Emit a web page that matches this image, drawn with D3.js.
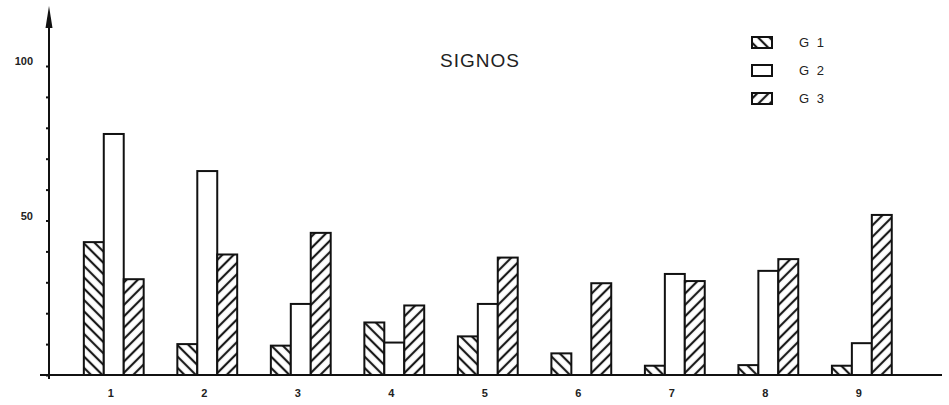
<!DOCTYPE html>
<html>
<head>
<meta charset="utf-8">
<script src="https://cdn.jsdelivr.net/npm/d3@7"></script>
<style>
  body { margin: 0; background: #fff; }
  svg { display: block; font-family: "Liberation Sans", Arial, sans-serif; }
</style>
</head>
<body>
<div class="canvas"></div>
<script>
// data
const categories = ['1', '2', '3', '4', '5', '6', '7', '8', '9'];
const groups = ['G 1', 'G 2', 'G 3'];
const g1 = [43, 10, 9.5, 17, 12.5, 7, 3, 3.2, 3];
const g2 = [78, 66, 23, 10.5, 23, 0, 32.7, 33.7, 10.3];
const g3 = [31, 39, 46, 22.5, 38, 29.7, 30.4, 37.5, 51.8];
const yTickLabels = [50, 100];

const width = 949, height = 405;
const baseY = 375, axisX = 49;

const svg = d3.select('.canvas').append('svg')
    .attr('width', width)
    .attr('height', height);

// patterns
const defs = svg.append('defs');
const hatch = (id, dir) => {
    const p = defs.append('pattern')
        .attr('id', id)
        .attr('patternUnits', 'userSpaceOnUse')
        .attr('width', 8).attr('height', 8)
        .attr('patternTransform', `rotate(${dir})`);
    p.append('rect').attr('width', 8).attr('height', 8).attr('fill', '#fff');
    p.append('line')
        .attr('x1', 4).attr('y1', 0).attr('x2', 4).attr('y2', 8)
        .attr('stroke', '#1a1a1a').attr('stroke-width', 2.2);
};
hatch('hatchBack', -45);
hatch('hatchFwd', 45);
const fills = ['url(#hatchBack)', '#fff', 'url(#hatchFwd)'];

// scales
const x = d3.scaleBand()
    .domain(categories)
    .range([67, 1 + 67 + 93.4 * 9])
    .paddingInner(0.36)
    .paddingOuter(0.18);
const xs = d3.scaleBand().domain(groups).range([0, x.bandwidth()]);
const y = d3.scaleLinear().domain([0, 100]).range([baseY, 66]);

// bars
const rows = categories.map((c, i) => ({ cat: c, vals: [g1[i], g2[i], g3[i]] }));
const gg = svg.selectAll('g.grp').data(rows).enter().append('g')
    .attr('class', 'grp')
    .attr('transform', d => `translate(${x(d.cat)},0)`);

gg.selectAll('rect')
    .data(d => d.vals.map((v, j) => ({ v, j })))
    .enter().filter(d => d.v > 0)
    .append('rect')
    .attr('x', d => xs(groups[d.j]))
    .attr('y', d => y(d.v))
    .attr('width', xs.bandwidth())
    .attr('height', d => baseY - y(d.v))
    .attr('fill', d => fills[d.j])
    .attr('stroke', '#111')
    .attr('stroke-width', 2);

// x axis line
svg.append('line')
    .attr('x1', 40).attr('x2', 942)
    .attr('y1', baseY).attr('y2', baseY)
    .attr('stroke', '#111').attr('stroke-width', 2);

svg.selectAll('text.cat').data(categories).enter().append('text')
    .attr('class', 'cat')
    .attr('x', d => x(d) + x.bandwidth() / 2 - 3)
    .attr('y', 397)
    .attr('text-anchor', 'middle')
    .attr('font-size', 11)
    .attr('font-weight', 'bold')
    .attr('fill', '#222')
    .text(d => d);

// y axis
const yAxis = d3.axisLeft(y)
    .tickValues(d3.range(0, 101, 10))
    .tickSize(3)
    .tickFormat(d => yTickLabels.includes(d) ? d : '');
const yg = svg.append('g')
    .attr('transform', `translate(${axisX},0)`)
    .call(yAxis);
yg.select('.domain').remove();
yg.selectAll('.tick line').attr('stroke', '#111').attr('stroke-width', 2);
yg.selectAll('.tick text')
    .attr('x', -16)
    .attr('dy', '-0.1em')
    .attr('font-size', 11)
    .attr('font-weight', 'bold')
    .attr('fill', '#222')
    .attr('font-family', '"Liberation Sans", Arial, sans-serif');

svg.append('line')
    .attr('x1', axisX).attr('x2', axisX)
    .attr('y1', 14).attr('y2', baseY + 4)
    .attr('stroke', '#111').attr('stroke-width', 2);
svg.append('path')
    .attr('d', `M${axisX},6 L${axisX - 3.5},28 L${axisX + 3.5},28 Z`)
    .attr('fill', '#111');

// title
svg.append('text')
    .attr('x', 480).attr('y', 67)
    .attr('text-anchor', 'middle')
    .attr('font-size', 19)
    .attr('letter-spacing', 1)
    .attr('fill', '#222')
    .text('SIGNOS');

// legend
const leg = svg.selectAll('g.leg').data(groups).enter().append('g')
    .attr('class', 'leg')
    .attr('transform', (d, i) => `translate(752,${37 + i * 28})`);
leg.append('rect')
    .attr('width', 20).attr('height', 11)
    .attr('fill', (d, i) => fills[i])
    .attr('stroke', '#111').attr('stroke-width', 2);
leg.append('text')
    .attr('x', 47).attr('y', 10)
    .attr('font-size', 13)
    .attr('letter-spacing', 2)
    .attr('fill', '#222')
    .text(d => d);
</script>
</body>
</html>
